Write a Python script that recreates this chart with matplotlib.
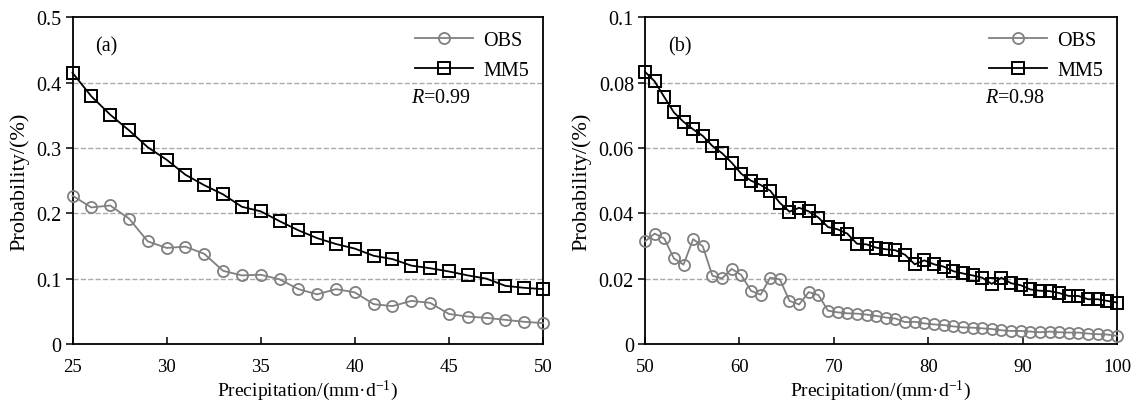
import numpy as np
import matplotlib
matplotlib.use('Agg')
import matplotlib.pyplot as plt
from matplotlib.ticker import FuncFormatter

plt.rcParams['font.family'] = ['Liberation Serif', 'DejaVu Serif']
plt.rcParams['mathtext.fontset'] = 'custom'
plt.rcParams['mathtext.rm'] = 'Liberation Serif'
plt.rcParams['mathtext.it'] = 'Liberation Serif:italic'

# Panel (a): 25-50 mm/d, one point per mm/d
x_a = np.arange(25, 51)
obs_a = [0.227, 0.209, 0.212, 0.192, 0.157, 0.147, 0.149, 0.138, 0.112, 0.105,
         0.106, 0.099, 0.084, 0.076, 0.084, 0.079, 0.061, 0.058, 0.066, 0.063,
         0.046, 0.042, 0.040, 0.037, 0.034, 0.032]
mm5_a = [0.415, 0.379, 0.351, 0.327, 0.301, 0.282, 0.259, 0.243, 0.229, 0.210,
         0.203, 0.188, 0.174, 0.162, 0.153, 0.146, 0.135, 0.130, 0.120, 0.116,
         0.111, 0.105, 0.100, 0.089, 0.086, 0.084]

# Panel (b): 50-100 mm/d, 50 bins
x_b = np.linspace(50, 100, 50)
obs_b = [0.0314, 0.0338, 0.0323, 0.0262, 0.0243, 0.0321, 0.0299, 0.0209, 0.0201, 0.0230,
         0.0211, 0.0163, 0.0151, 0.0203, 0.0198, 0.0132, 0.0121, 0.0159, 0.0150, 0.0102,
         0.0097, 0.0094, 0.0093, 0.0090, 0.0086, 0.0081, 0.0078, 0.0067, 0.0068, 0.0063,
         0.0060, 0.0058, 0.0054, 0.0051, 0.0050, 0.0048, 0.0046, 0.0042, 0.0040, 0.0040,
         0.0038, 0.0036, 0.0038, 0.0036, 0.0035, 0.0035, 0.0032, 0.0030, 0.0029, 0.0025]
mm5_b = [0.0833, 0.0804, 0.0756, 0.0709, 0.0680, 0.0657, 0.0637, 0.0606, 0.0584, 0.0555,
         0.0521, 0.0500, 0.0487, 0.0469, 0.0432, 0.0405, 0.0417, 0.0406, 0.0387, 0.0358,
         0.0351, 0.0338, 0.0307, 0.0305, 0.0295, 0.0290, 0.0287, 0.0273, 0.0244, 0.0256,
         0.0244, 0.0237, 0.0223, 0.0216, 0.0210, 0.0203, 0.0184, 0.0203, 0.0186, 0.0180,
         0.0167, 0.0163, 0.0162, 0.0156, 0.0147, 0.0147, 0.0137, 0.0137, 0.0132, 0.0127]

panels = [
    dict(x=x_a, obs=obs_a, mm5=mm5_a, xlim=(25, 50), xticks=[25, 30, 35, 40, 45, 50],
         ylim=(0, 0.5), yticks=[0, 0.1, 0.2, 0.3, 0.4, 0.5], tag='(a)', r='0.99',
         rect=[0.0634, 0.1502, 0.4113, 0.8048]),
    dict(x=x_b, obs=obs_b, mm5=mm5_b, xlim=(50, 100), xticks=[50, 60, 70, 80, 90, 100],
         ylim=(0, 0.1), yticks=[0, 0.02, 0.04, 0.06, 0.08, 0.1], tag='(b)', r='0.98',
         rect=[0.5638, 0.1502, 0.4126, 0.8048]),
]

fig = plt.figure(figsize=(11.44, 4.06), dpi=100)

for p in panels:
    ax = fig.add_axes(p['rect'])
    ax.plot(p['x'], p['obs'], color='#808080', linewidth=1.3, marker='o', markersize=8,
            markerfacecolor='none', markeredgewidth=1.3, label='OBS', clip_on=False, zorder=3)
    ax.plot(p['x'], p['mm5'], color='black', linewidth=1.3, marker='s', markersize=8,
            markerfacecolor='none', markeredgewidth=1.4, label='MM5', clip_on=False, zorder=4)

    ax.set_xlim(p['xlim'])
    ax.set_ylim(p['ylim'])
    ax.set_xticks(p['xticks'])
    ax.set_yticks(p['yticks'])
    ax.yaxis.set_major_formatter(FuncFormatter(lambda v, pos: '%g' % round(v, 3)))

    # dashed grid only at inner y ticks
    for yv in p['yticks'][1:-1]:
        ax.axhline(yv, color='#aaaaaa', linestyle='--', linewidth=1.0, zorder=1)

    ax.tick_params(axis='x', direction='in', length=5, width=1.1, labelsize=13.5, pad=10)
    ax.tick_params(axis='y', direction='out', length=5, width=1.1, labelsize=14.5, pad=3)
    for s in ax.spines.values():
        s.set_linewidth(1.3)

    ax.set_xlabel(r'Precipitation/(mm·d$^{\mathregular{-1}}$)', fontsize=14, labelpad=2)
    ax.set_ylabel('Probability/(%)', fontsize=16, labelpad=5)

    ax.text(0.048, 0.913, p['tag'], transform=ax.transAxes, fontsize=14.5, va='center')
    ax.text(0.72, 0.755, r'$R$=' + p['r'], transform=ax.transAxes, fontsize=14.5, va='center')
    ax.legend(loc='upper right', frameon=False, fontsize=14.5, handlelength=2.9,
              borderaxespad=0.3, labelspacing=0.5, handletextpad=0.5)

plt.savefig('out.png', dpi=100)
